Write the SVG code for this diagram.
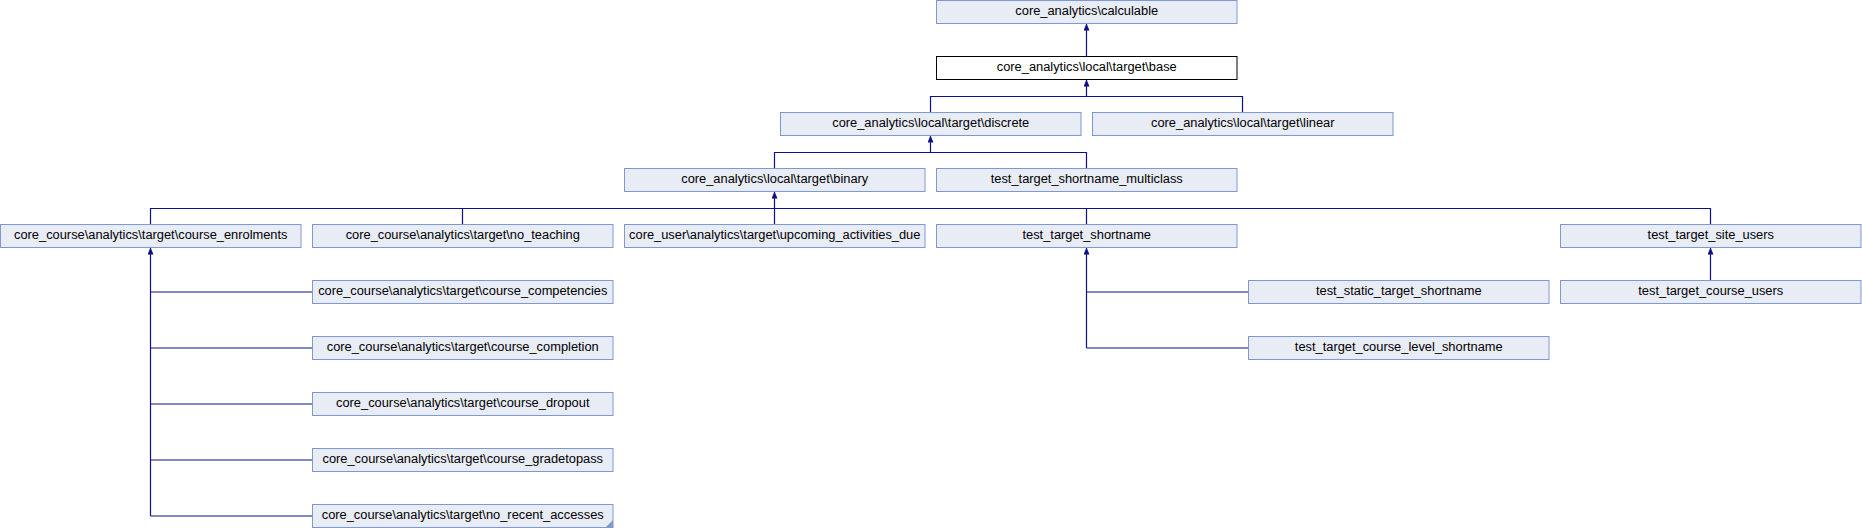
<svg xmlns="http://www.w3.org/2000/svg" width="1862" height="528" viewBox="0 0 1862 528">
<style>
.n rect{fill:#e8ecf5;stroke:#7f99cf;stroke-width:1}
.n.cur rect{fill:#ffffff;stroke:#000000}
.n text{font-family:"Liberation Sans",Arial,sans-serif;font-size:12.85px;fill:#000;text-anchor:middle}
.e path{fill:none;stroke:#0e118e;stroke-width:1.2;marker-end:url(#ah)}
.e path.nm{marker-end:none}
</style>
<defs>
<marker id="ah" viewBox="0 0 7 6" refX="7" refY="3" markerWidth="7" markerHeight="6" markerUnits="userSpaceOnUse" orient="auto">
<path d="M0,0 L7,3 L0,6 z" fill="#0e118e"/>
</marker>
</defs>
<rect x="0" y="0" width="1862" height="528" fill="#ffffff"/>
<g id="connectors" class="e">
<path d="M1086.5,56.5 V23.5"/>
<path d="M930.5,112.5 V96.5 H1086.5 V79.5"/>
<path class="nm" d="M1242.5,112.5 V96.5 H1086.5"/>
<path d="M774.5,168.5 V152.5 H930.5 V135.5"/>
<path class="nm" d="M1086.5,168.5 V152.5 H930.5"/>
<path d="M774.5,224.5 V191.5"/>
<path class="nm" d="M150.5,224.5 V208.5 H1710.5 V224.5"/>
<path class="nm" d="M462.5,224.5 V208.5"/>
<path class="nm" d="M1086.5,224.5 V208.5"/>
<path d="M150.5,516 V247.5"/>
<path class="nm" d="M312.5,292 H150.5"/>
<path class="nm" d="M312.5,348 H150.5"/>
<path class="nm" d="M312.5,404 H150.5"/>
<path class="nm" d="M312.5,460 H150.5"/>
<path class="nm" d="M312.5,516 H150.5"/>
<path d="M1086.5,348 V247.5"/>
<path class="nm" d="M1248.5,292 H1086.5"/>
<path class="nm" d="M1248.5,348 H1086.5"/>
<path d="M1710.5,280.5 V247.5"/>
</g>
<g id="node_calculable" class="n"><rect x="936.5" y="0.5" width="300.5" height="23"/><text x="1086.75" y="15.3">core_analytics\calculable</text></g>
<g id="node_base" class="n cur"><rect x="936.5" y="56.5" width="300.5" height="23"/><text x="1086.75" y="71.3">core_analytics\local\target\base</text></g>
<g id="node_discrete" class="n"><rect x="780.5" y="112.5" width="300.5" height="23"/><text x="930.75" y="127.3">core_analytics\local\target\discrete</text></g>
<g id="node_linear" class="n"><rect x="1092.5" y="112.5" width="300.5" height="23"/><text x="1242.75" y="127.3">core_analytics\local\target\linear</text></g>
<g id="node_binary" class="n"><rect x="624.5" y="168.5" width="300.5" height="23"/><text x="774.75" y="183.3">core_analytics\local\target\binary</text></g>
<g id="node_multiclass" class="n"><rect x="936.5" y="168.5" width="300.5" height="23"/><text x="1086.75" y="183.3">test_target_shortname_multiclass</text></g>
<g id="node_course_enrolments" class="n"><rect x="0.5" y="224.5" width="300.5" height="23"/><text x="150.75" y="239.3">core_course\analytics\target\course_enrolments</text></g>
<g id="node_no_teaching" class="n"><rect x="312.5" y="224.5" width="300.5" height="23"/><text x="462.75" y="239.3">core_course\analytics\target\no_teaching</text></g>
<g id="node_upcoming" class="n"><rect x="624.5" y="224.5" width="300.5" height="23"/><text x="774.75" y="239.3">core_user\analytics\target\upcoming_activities_due</text></g>
<g id="node_test_target_shortname" class="n"><rect x="936.5" y="224.5" width="300.5" height="23"/><text x="1086.75" y="239.3">test_target_shortname</text></g>
<g id="node_site_users" class="n"><rect x="1560.5" y="224.5" width="300.5" height="23"/><text x="1710.75" y="239.3">test_target_site_users</text></g>
<g id="node_competencies" class="n"><rect x="312.5" y="280.5" width="300.5" height="23"/><text x="462.75" y="295.3">core_course\analytics\target\course_competencies</text></g>
<g id="node_static" class="n"><rect x="1248.5" y="280.5" width="300.5" height="23"/><text x="1398.75" y="295.3">test_static_target_shortname</text></g>
<g id="node_course_users" class="n"><rect x="1560.5" y="280.5" width="300.5" height="23"/><text x="1710.75" y="295.3">test_target_course_users</text></g>
<g id="node_completion" class="n"><rect x="312.5" y="336.5" width="300.5" height="23"/><text x="462.75" y="351.3">core_course\analytics\target\course_completion</text></g>
<g id="node_course_level" class="n"><rect x="1248.5" y="336.5" width="300.5" height="23"/><text x="1398.75" y="351.3">test_target_course_level_shortname</text></g>
<g id="node_dropout" class="n"><rect x="312.5" y="392.5" width="300.5" height="23"/><text x="462.75" y="407.3">core_course\analytics\target\course_dropout</text></g>
<g id="node_gradetopass" class="n"><rect x="312.5" y="448.5" width="300.5" height="23"/><text x="462.75" y="463.3">core_course\analytics\target\course_gradetopass</text></g>
<g id="node_no_recent" class="n"><rect x="312.5" y="504.5" width="300.5" height="23"/><text x="462.75" y="519.3">core_course\analytics\target\no_recent_accesses</text><polygon points="606,527 613,520 613,527" fill="#7f99cf"/></g>
</svg>
